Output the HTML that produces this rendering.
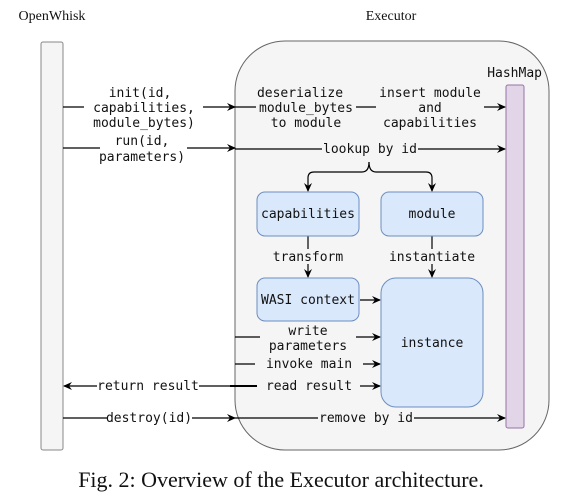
<!DOCTYPE html>
<html><head><meta charset="utf-8"><style>
html,body{margin:0;padding:0;background:#fff;width:561px;height:499px;overflow:hidden}
svg{display:block}
.m{font-family:"DejaVu Sans Mono","Liberation Mono",monospace;font-size:13px;fill:#111}
</style></head><body>
<svg width="561" height="499" viewBox="0 0 561 499" xmlns="http://www.w3.org/2000/svg">
<defs><marker id="a" markerWidth="10" markerHeight="10" refX="8" refY="5" orient="auto" markerUnits="userSpaceOnUse"><path d="M0,1 L9,5 L0,9 L3,5 z" fill="#000"/></marker></defs>
<text x="52" y="20" text-anchor="middle" font-family="Liberation Serif,serif" font-size="14" fill="#111">OpenWhisk</text>
<text x="391" y="20" text-anchor="middle" font-family="Liberation Serif,serif" font-size="14" fill="#111">Executor</text>
<rect x="41" y="42" width="22" height="408" rx="2" fill="#f5f5f5" stroke="#888"/>
<rect x="235" y="41" width="314" height="409" rx="50" fill="#f5f5f5" stroke="#666"/>
<text x="542" y="77" text-anchor="end" class="m">HashMap</text>
<rect x="506" y="85" width="18" height="343" rx="2" fill="#e1d5e7" stroke="#9673a6"/>
<g stroke="#000" stroke-width="1.2" fill="none">
<line x1="63" y1="107" x2="84" y2="107"/><line x1="203" y1="107" x2="235" y2="107" marker-end="url(#a)"/>
<line x1="235" y1="107" x2="256" y2="107"/><line x1="356" y1="107" x2="376" y2="107"/>
<line x1="484" y1="107" x2="505" y2="107" marker-end="url(#a)"/>
<line x1="63" y1="148" x2="100" y2="148"/><line x1="187" y1="148" x2="235" y2="148" marker-end="url(#a)"/>
<line x1="235" y1="149" x2="322" y2="149"/><line x1="418" y1="149" x2="505" y2="149" marker-end="url(#a)"/>
<path d="M369,162 Q369,172 362,172 L314,172 Q308,172 308,178 L308,191" marker-end="url(#a)"/>
<path d="M369,162 Q369,172 376,172 L426,172 Q432,172 432,178 L432,191" marker-end="url(#a)"/>
<line x1="308" y1="236" x2="308" y2="249"/><line x1="308" y1="264" x2="308" y2="277" marker-end="url(#a)"/>
<line x1="432" y1="236" x2="432" y2="249"/><line x1="432" y1="264" x2="432" y2="277" marker-end="url(#a)"/>
<line x1="360" y1="300" x2="380" y2="300" marker-end="url(#a)"/>
<line x1="235" y1="337" x2="260" y2="337"/><line x1="356" y1="337" x2="380" y2="337" marker-end="url(#a)"/>
<line x1="235" y1="364" x2="255" y2="364"/><line x1="363" y1="364" x2="380" y2="364" marker-end="url(#a)"/>
<line x1="230" y1="386" x2="257" y2="386" stroke-width="2"/><line x1="360" y1="386" x2="380" y2="386" marker-end="url(#a)"/>
<line x1="230" y1="386" x2="199" y2="386"/><line x1="97" y1="386" x2="64" y2="386" marker-end="url(#a)"/>
<line x1="63" y1="418" x2="107" y2="418"/><line x1="192" y1="418" x2="235" y2="418" marker-end="url(#a)"/>
<line x1="235" y1="418" x2="318" y2="418"/><line x1="414" y1="418" x2="505" y2="418" marker-end="url(#a)"/>
</g>
<rect x="257" y="192" width="102" height="44" rx="8" fill="#dae8fc" stroke="#6c8ebf"/>
<rect x="381" y="192" width="102" height="44" rx="8" fill="#dae8fc" stroke="#6c8ebf"/>
<rect x="257" y="278" width="102" height="43" rx="8" fill="#dae8fc" stroke="#6c8ebf"/>
<rect x="381" y="278" width="102" height="129" rx="15" fill="#dae8fc" stroke="#6c8ebf"/>
<g class="m" text-anchor="middle">
<text x="140" y="97">init(id,</text><text x="144" y="112">capabilities,</text><text x="144" y="127">module_bytes)</text>
<text x="300" y="97">deserialize</text><text x="306" y="112">module_bytes</text><text x="306" y="127">to module</text>
<text x="430" y="97">insert module</text><text x="430" y="112">and</text><text x="430" y="127">capabilities</text>
<text x="142" y="145">run(id,</text><text x="142" y="161">parameters)</text>
<text x="370" y="153">lookup by id</text>
<text x="308" y="218">capabilities</text><text x="432" y="218">module</text>
<text x="308" y="261">transform</text><text x="432" y="261">instantiate</text>
<text x="308" y="304">WASI context</text><text x="432" y="347">instance</text>
<text x="308" y="335">write</text><text x="308" y="350">parameters</text>
<text x="309" y="368">invoke main</text><text x="309" y="390">read result</text>
<text x="148" y="390">return result</text><text x="149" y="422">destroy(id)</text>
<text x="366" y="422">remove by id</text>
</g>
<text x="281" y="487" text-anchor="middle" font-family="Liberation Serif,serif" font-size="22" fill="#111">Fig. 2: Overview of the Executor architecture.</text>
</svg>
</body></html>
